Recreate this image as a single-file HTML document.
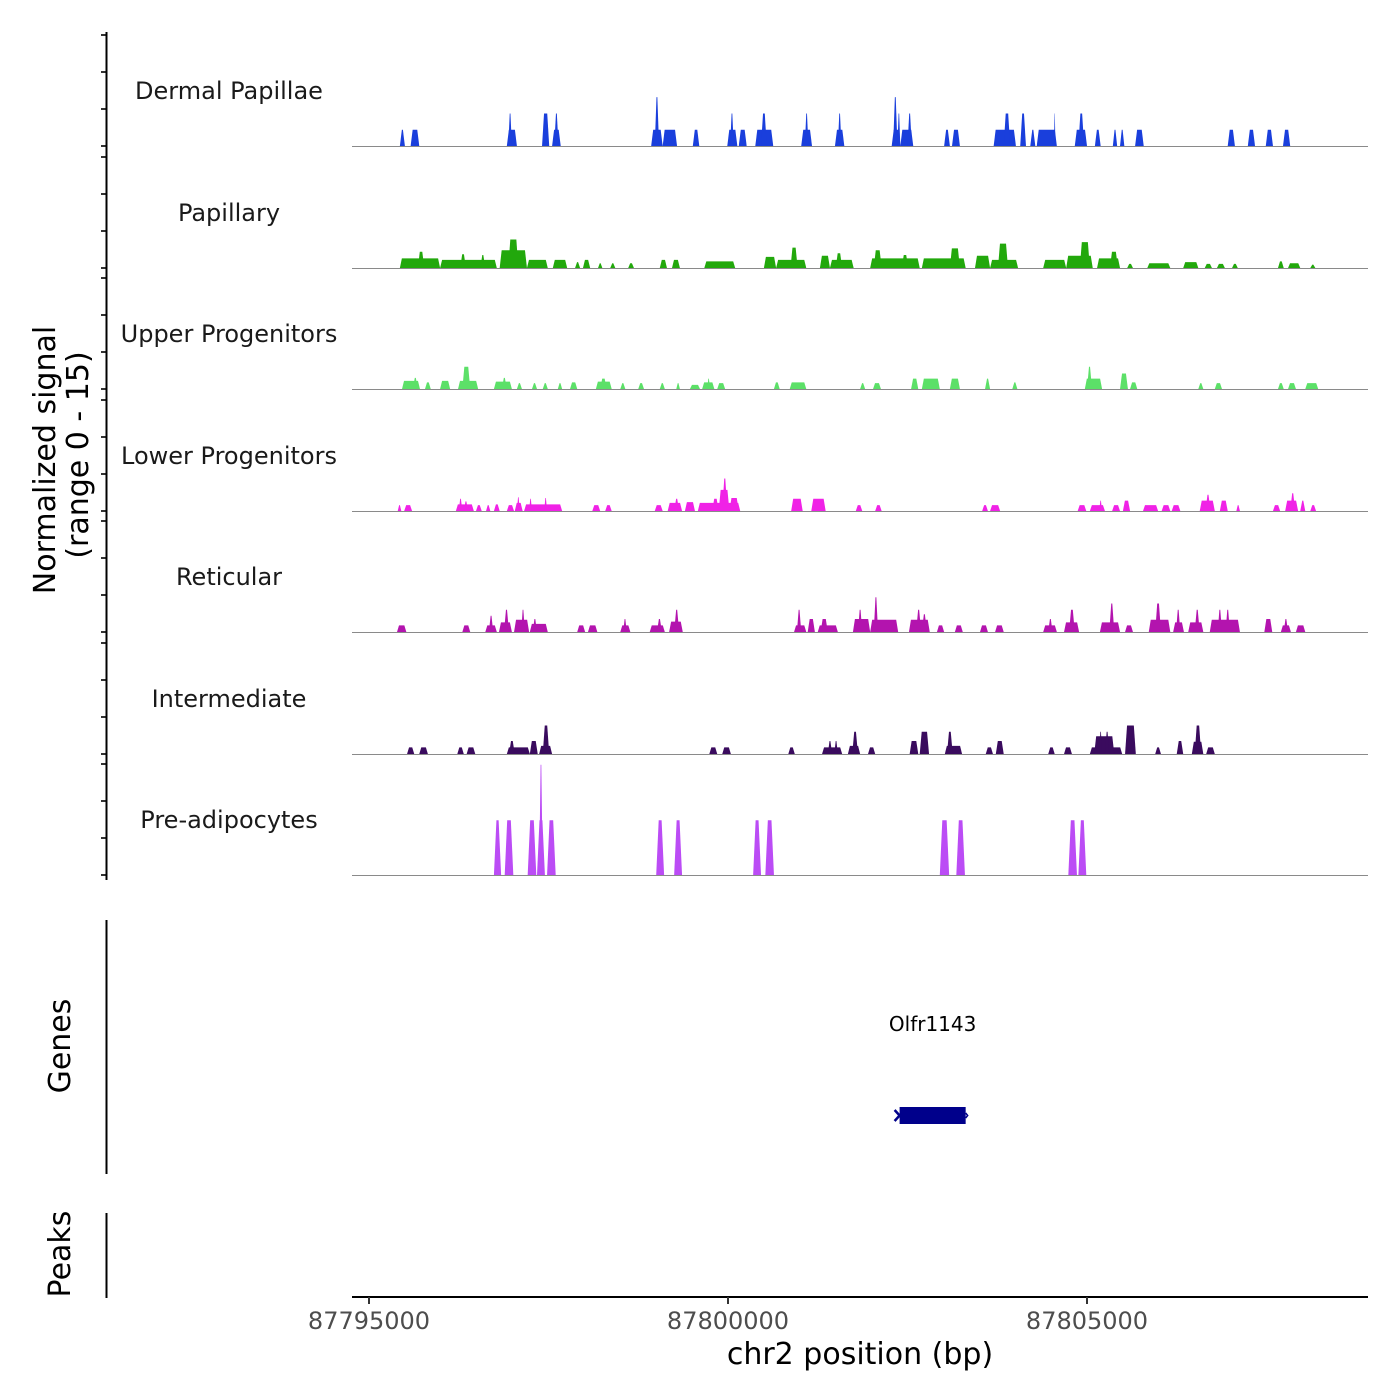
<!DOCTYPE html>
<html><head><meta charset="utf-8"><style>
html,body{margin:0;padding:0;background:#fff;}
svg{display:block;font-family:"DejaVu Sans","Liberation Sans",sans-serif;}
</style></head><body>
<svg id="chart" width="1400" height="1400" viewBox="0 0 1400 1400" xmlns="http://www.w3.org/2000/svg">
<rect x="0" y="0" width="1400" height="1400" fill="#fff"/>
<g id="tracks"></g>
<g id="axes"></g>
<text x="0" y="0" transform="translate(55,460) rotate(-90)" text-anchor="middle" font-size="30" fill="#000">Normalized signal</text>
<text x="0" y="0" transform="translate(88,455) rotate(-90)" text-anchor="middle" font-size="30" fill="#000">(range 0 - 15)</text>
<text x="0" y="0" transform="translate(70,1046) rotate(-90)" text-anchor="middle" font-size="30" fill="#000">Genes</text>
<text x="0" y="0" transform="translate(70,1254) rotate(-90)" text-anchor="middle" font-size="30" fill="#000">Peaks</text>
<text x="860" y="1364" text-anchor="middle" font-size="30" fill="#000">chr2 position (bp)</text>
</svg>
<script>
// ---- data (positions in kb offset from 87,795,000; values = normalized signal) ----
const trackNames = ["Dermal Papillae","Papillary","Upper Progenitors","Lower Progenitors","Reticular","Intermediate","Pre-adipocytes"];
const trackColors = ["#1a3fdc","#22a80c","#5ce068","#f022e6","#b314ae","#3a0b5e","#bb4cf5"];
const xTickValues = [87795000, 87800000, 87805000];
const xTickLabels = ["87795000","87800000","87805000"];
const yTickValues = [0,5,10,15];
const geneName = ["Olfr1143"];
const geneStartKb = [7.39];
const geneEndKb = [8.31];

const dermalPapillae = [[0.43,0.50,2.2],[0.58,0.70,2.2],[1.92,2.06,2.2],[1.94,1.99,4.4],[2.41,2.51,4.4],[2.55,2.67,2.2],[2.58,2.64,4.4],[3.93,4.09,2.2],[3.98,4.04,6.6],[4.09,4.29,2.2],[4.51,4.60,2.2],[4.99,5.13,2.2],[5.03,5.08,4.4],[5.15,5.26,2.2],[5.38,5.63,2.2],[5.46,5.54,4.4],[6.02,6.17,2.2],[6.07,6.12,4.4],[6.49,6.62,2.2],[6.53,6.58,4.4],[7.28,7.40,2.2],[7.30,7.36,6.6],[7.36,7.40,4.4],[7.40,7.58,2.2],[7.50,7.56,4.4],[8.01,8.09,2.2],[8.12,8.23,2.2],[8.70,9.01,2.2],[8.84,8.93,4.4],[9.07,9.15,4.4],[9.21,9.28,2.2],[9.30,9.58,2.2],[9.54,9.56,4.4],[9.83,10.00,2.2],[9.88,9.96,4.4],[10.11,10.19,2.2],[10.36,10.42,2.2],[10.46,10.52,2.2],[10.67,10.79,2.2],[11.96,12.06,2.2],[12.24,12.34,2.2],[12.49,12.59,2.2],[12.73,12.83,2.2]];
const papillary = [[0.43,0.99,1.3],[0.68,0.77,2.2],[0.99,1.78,1.1],[1.27,1.35,1.85],[1.55,1.62,1.75],[1.82,2.20,2.4],[1.94,2.08,3.85],[2.20,2.49,1.1],[2.56,2.76,1.1],[2.87,2.94,0.8],[2.98,3.08,1.1],[3.19,3.25,0.65],[3.36,3.43,0.65],[3.61,3.69,0.65],[4.05,4.15,1.1],[4.22,4.33,1.1],[4.67,5.10,0.9],[5.50,5.67,1.5],[5.67,6.09,1.1],[5.87,5.97,2.75],[6.28,6.42,1.65],[6.42,6.75,1.1],[6.50,6.59,2.0],[6.98,7.67,1.3],[7.03,7.14,2.4],[7.42,7.51,1.75],[7.70,8.31,1.3],[8.09,8.23,2.65],[8.44,8.65,1.65],[8.65,9.04,1.1],[8.76,8.90,3.3],[9.39,9.71,1.1],[9.71,10.08,1.65],[9.90,10.04,3.5],[10.14,10.46,1.3],[10.32,10.43,2.2],[10.56,10.64,0.55],[10.84,11.16,0.65],[11.34,11.55,0.8],[11.64,11.74,0.55],[11.81,11.92,0.55],[12.02,12.10,0.55],[12.66,12.74,0.9],[12.80,12.97,0.65],[13.11,13.18,0.45]];
const upperProgenitors = [[0.46,0.71,1.1],[0.61,0.68,1.5],[0.78,0.86,0.9],[0.99,1.13,1.1],[1.24,1.52,1.1],[1.30,1.41,3.0],[1.74,1.99,1.0],[1.85,1.92,1.5],[2.06,2.13,0.8],[2.27,2.34,0.8],[2.42,2.49,0.8],[2.63,2.69,0.8],[2.80,2.90,0.9],[3.16,3.38,1.0],[3.22,3.31,1.4],[3.50,3.57,0.8],[3.75,3.83,0.8],[4.05,4.12,0.8],[4.28,4.33,0.8],[4.47,4.61,0.55],[4.64,4.81,0.9],[4.71,4.75,1.4],[4.85,4.96,0.8],[5.64,5.72,0.9],[5.86,6.09,0.9],[6.84,6.91,0.8],[7.02,7.13,0.8],[7.55,7.65,1.4],[7.70,7.95,1.4],[8.09,8.23,1.4],[8.58,8.65,1.4],[8.96,9.03,0.9],[9.97,10.21,1.4],[10.00,10.07,3.0],[10.46,10.57,2.1],[10.60,10.70,0.9],[11.55,11.62,0.8],[11.78,11.88,0.8],[12.66,12.74,0.8],[12.80,12.91,0.8],[13.04,13.22,0.8]];
const lowerProgenitors = [[0.40,0.45,0.8],[0.49,0.60,0.8],[1.21,1.46,0.9],[1.25,1.30,1.65],[1.32,1.38,1.3],[1.49,1.57,0.8],[1.63,1.69,0.8],[1.74,1.82,0.9],[1.92,2.02,0.8],[2.03,2.14,1.1],[2.06,2.10,1.85],[2.16,2.69,0.9],[2.23,2.27,1.65],[2.44,2.48,1.75],[3.11,3.22,0.8],[3.29,3.38,0.8],[3.98,4.09,0.8],[4.16,4.36,1.1],[4.25,4.32,1.65],[4.40,4.54,1.2],[4.58,5.17,1.1],[4.78,4.87,1.65],[4.87,5.02,2.85],[4.92,4.99,4.4],[5.02,5.15,1.75],[5.88,6.04,1.65],[6.16,6.36,1.65],[6.78,6.87,0.8],[7.05,7.14,0.8],[8.54,8.62,0.8],[8.65,8.79,0.8],[9.87,9.99,0.8],[10.04,10.25,0.8],[10.17,10.21,1.4],[10.35,10.46,0.8],[10.50,10.60,1.4],[10.78,10.99,0.8],[11.04,11.16,0.8],[11.18,11.30,0.8],[11.57,11.78,1.4],[11.65,11.72,2.2],[11.85,11.96,1.4],[12.08,12.13,0.8],[12.59,12.69,0.8],[12.76,12.94,1.4],[12.83,12.90,2.4],[12.97,13.04,1.4],[13.11,13.19,0.8]];
const reticular = [[0.39,0.52,0.9],[1.30,1.41,0.9],[1.62,1.78,0.9],[1.67,1.73,2.2],[1.81,1.99,1.3],[1.88,1.95,3.0],[2.02,2.23,1.65],[2.12,2.17,3.0],[2.24,2.49,1.1],[2.28,2.34,1.75],[2.90,3.01,0.9],[3.05,3.18,0.9],[3.50,3.64,0.9],[3.54,3.59,1.75],[3.91,4.12,0.9],[4.01,4.08,1.75],[4.18,4.37,1.4],[4.25,4.32,3.0],[5.92,6.09,0.9],[5.96,6.02,3.0],[6.11,6.21,1.75],[6.25,6.53,0.9],[6.29,6.39,1.75],[6.74,6.98,1.75],[6.81,6.87,3.0],[6.98,7.37,1.65],[7.03,7.09,4.7],[7.52,7.81,1.65],[7.62,7.69,3.0],[7.70,7.77,2.4],[7.91,8.01,0.9],[8.16,8.27,0.9],[8.51,8.62,0.9],[8.72,8.84,0.9],[9.39,9.58,0.9],[9.46,9.52,1.75],[9.68,9.89,1.3],[9.75,9.83,3.0],[10.18,10.46,1.3],[10.31,10.38,3.85],[10.53,10.64,0.9],[10.86,11.16,1.65],[10.95,11.03,3.85],[11.20,11.35,1.3],[11.24,11.30,3.0],[11.41,11.62,1.3],[11.50,11.57,3.0],[11.71,12.13,1.65],[11.82,11.88,3.0],[11.93,11.99,3.0],[12.47,12.58,1.75],[12.70,12.84,0.9],[12.74,12.80,1.75],[12.91,13.04,0.9]];
const intermediate = [[0.53,0.63,0.9],[0.70,0.82,0.9],[1.23,1.32,0.9],[1.36,1.48,0.9],[1.92,2.24,0.9],[1.95,2.03,1.75],[2.24,2.35,1.75],[2.37,2.55,1.1],[2.42,2.51,3.85],[4.74,4.85,0.9],[4.92,5.04,0.9],[5.84,5.93,0.9],[6.31,6.59,0.9],[6.39,6.45,1.75],[6.48,6.53,1.75],[6.67,6.84,1.1],[6.73,6.81,3.0],[6.95,7.05,0.9],[7.53,7.65,1.75],[7.67,7.80,3.0],[8.02,8.26,1.1],[8.05,8.13,3.0],[8.59,8.69,0.9],[8.73,8.84,1.75],[9.46,9.55,0.9],[9.68,9.79,0.9],[10.04,10.49,0.9],[10.10,10.38,2.4],[10.17,10.21,3.0],[10.25,10.31,3.0],[10.53,10.68,3.85],[10.95,11.03,0.9],[11.25,11.34,1.75],[11.46,11.62,1.65],[11.50,11.59,3.85],[11.66,11.78,0.9]];
const preAdipocytes = [[1.74,1.84,7.4],[1.89,2.01,7.4],[2.21,2.33,7.4],[2.34,2.45,7.4],[2.37,2.42,14.9],[2.48,2.60,7.4],[4.00,4.11,7.4],[4.25,4.36,7.4],[5.35,5.46,7.4],[5.52,5.64,7.4],[7.95,8.08,7.4],[8.18,8.30,7.4],[9.74,9.86,7.4],[9.88,9.99,7.4]];
const trackData = [dermalPapillae,papillary,upperProgenitors,lowerProgenitors,reticular,intermediate,preAdipocytes];

// ---- layout / scales ----
const NS = "http://www.w3.org/2000/svg";
const plotLeft = 352, plotRight = 1368;
const originBp = 87795000;
const pxPerKb = 71.8, x0px = 369;
function xKb(kb){ return x0px + kb*pxPerKb; }
function xBp(bp){ return xKb((bp-originBp)/1000); }
const baselines = [146,268,389,511,632,754,875];
const pxPerUnit = 111/15;
function yVal(base, v){ return base - Math.min(v,15.8)*pxPerUnit; }

function mk(tag, attrs, parent){
  const el = document.createElementNS(NS, tag);
  for (const k in attrs) el.setAttribute(k, attrs[k]);
  parent.appendChild(el);
  return el;
}
const tracksG = document.getElementById('tracks');
const axesG = document.getElementById('axes');

trackData.forEach((segs, ti) => {
  const base = baselines[ti];
  const g = mk('g', {}, tracksG);
  
  
  const ramp = ti === 6 ? 2.5 : 2;
  segs.forEach(s => {
    const xa = xKb(s[0]), xb = xKb(s[1]), yt = yVal(base, s[2]);
    const r = Math.min(ramp, (xb-xa)/2.5);
    const p = mk('polygon', {points: `${xa},${base} ${xa+r},${yt} ${xb-r},${yt} ${xb},${base}`, fill: trackColors[ti]}, g);
    
    
  });
  const bl = mk('line', {x1: plotLeft, x2: plotRight, y1: base+0.5, y2: base+0.5, stroke: '#8a8a8a', 'stroke-width': 1}, g);
  
  
  const lab = mk('text', {x: 229, y: base-47, 'text-anchor': 'middle', 'font-size': 24, fill: '#1a1a1a'}, g);
  lab.textContent = trackNames[ti];
  
  
  yTickValues.forEach(v => {
    const yy = yVal(base, v);
    const t = mk('line', {x1: 101, x2: 107, y1: yy, y2: yy, stroke: '#333', 'stroke-width': 2}, axesG);
    
    
  });
});

// left axis lines
[[32,880,'signal-y-axis-line'],[920,1174,'genes-y-axis-line'],[1213,1298,'peaks-y-axis-line']].forEach(a => {
  const l = mk('line', {x1: 106.5, x2: 106.5, y1: a[0], y2: a[1], stroke: '#000', 'stroke-width': 2}, axesG);
  
  
});

// x axis
const xl = mk('line', {x1: plotLeft, x2: plotRight, y1: 1297, y2: 1297, stroke: '#000', 'stroke-width': 2}, axesG);


xTickValues.forEach((v, i) => {
  const xx = xBp(v);
  const t = mk('line', {x1: xx, x2: xx, y1: 1297, y2: 1304, stroke: '#333', 'stroke-width': 2}, axesG);
  
  
  const tl = mk('text', {x: xx, y: 1329, 'text-anchor': 'middle', 'font-size': 24, fill: '#4d4d4d'}, axesG);
  tl.textContent = xTickLabels[i];
  
  
});

// gene
geneName.forEach((nm, i) => {
  const xa = xKb(geneStartKb[i]), xb = xKb(geneEndKb[i]);
  const g = mk('g', {}, tracksG);
  
  
  const r = mk('rect', {x: xa, y: 1107, width: xb-xa, height: 17, fill: '#00008b'}, g);
  
  
  const ar = mk('path', {d: `M${xa-5},${1110} L${xa},${1115.5} L${xa-5},${1121}`, fill: 'none', stroke: '#00008b', 'stroke-width': 2.5}, g);
  
  
  const ar2 = mk('path', {d: `M${xb},${1113} L${xb+2},${1115.5} L${xb},${1118}`, fill: 'none', stroke: '#00008b', 'stroke-width': 1.5}, g);
  
  
  const t = mk('text', {x: (xa+xb)/2, y: 1031, 'text-anchor': 'middle', 'font-size': 20, fill: '#000'}, g);
  t.textContent = nm;
  
  
});
</script>
</body></html>
